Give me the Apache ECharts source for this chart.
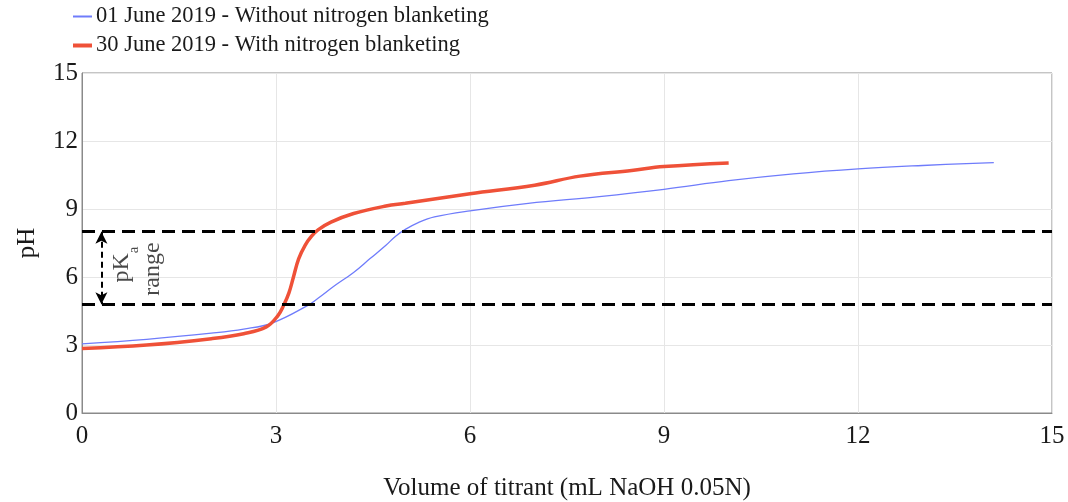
<!DOCTYPE html>
<html>
<head>
<meta charset="utf-8">
<script src="https://cdn.jsdelivr.net/npm/echarts@6/dist/echarts.min.js"></script>
<style>
  html, body { margin: 0; padding: 0; background: #fff; }
  #chart { width: 1068px; height: 502px; }
</style>
</head>
<body>
<div id="chart"></div>
<script>
// Titration curves: pH against volume of 0.05N NaOH added
const seriesNames = [
  '01 June 2019 - Without nitrogen blanketing',
  '30 June 2019 - With nitrogen blanketing'
];

// 01 June 2019 (no nitrogen blanketing)
const volumeJune01 = [0, 1.0, 2.0, 2.5, 2.95, 3.5, 3.65, 3.9, 4.2, 4.45, 4.7, 4.85, 5.0, 5.2, 5.45, 6.0, 6.9, 8.0, 9.0, 10.0, 11.0, 12.0, 13.0, 14.1];
const phJune01 = [3.05, 3.25, 3.52, 3.7, 3.98, 4.76, 5.06, 5.6, 6.2, 6.8, 7.4, 7.8, 8.1, 8.4, 8.65, 8.92, 9.25, 9.55, 9.87, 10.25, 10.55, 10.77, 10.92, 11.05];

// 30 June 2019 (nitrogen blanketing)
const volumeJune30 = [0, 1.0, 2.0, 2.5, 2.85, 3.03, 3.12, 3.2, 3.27, 3.35, 3.45, 3.55, 3.65, 3.85, 4.2, 4.7, 5.0, 6.0, 7.0, 7.7, 8.5, 9.0, 10.0];
const phJune30 = [2.85, 3.0, 3.28, 3.5, 3.8, 4.3, 4.76, 5.3, 6.0, 6.8, 7.4, 7.8, 8.08, 8.42, 8.8, 9.13, 9.25, 9.67, 10.05, 10.45, 10.7, 10.87, 11.03];

// pKa range limits (pH)
const pkaRange = [4.8, 8];

// Axis ticks
const xTicks = [0, 3, 6, 9, 12, 15];
const yTicks = [0, 3, 6, 9, 12, 15];

const FONT = '"Liberation Serif", "Times New Roman", serif';
const TEXT = '#1a1a1a';
const BLUE = '#6f7cfb';
const RED = '#ef5138';

const pairs = (xs, ys) => xs.map((x, i) => [x, ys[i]]);

const chart = echarts.init(document.getElementById('chart'), null, { renderer: 'canvas' });

const legendBase = {
  orient: 'vertical',
  left: 73,
  padding: 0,
  itemWidth: 19,
  textStyle: { fontFamily: FONT, fontSize: 22.5, color: TEXT, padding: [0, 0, 0, -1] },
  selectedMode: false
};

chart.setOption({
  animation: false,
  backgroundColor: '#fff',
  legend: [
    Object.assign({}, legendBase, { top: 5, itemHeight: 2, icon: 'rect', data: [seriesNames[0]] }),
    Object.assign({}, legendBase, { top: 34, itemHeight: 4, icon: 'rect', data: [seriesNames[1]] })
  ],
  grid: {
    left: 82, right: 16, top: 73, bottom: 89,
    outerBoundsMode: 'none',
    containLabel: false,
    show: true, borderColor: '#8a8a8a', borderWidth: 1
  },
  xAxis: {
    type: 'value',
    min: xTicks[0], max: xTicks[xTicks.length - 1], interval: xTicks[1] - xTicks[0],
    name: 'Volume of titrant (mL NaOH 0.05N)',
    nameLocation: 'middle', nameGap: 63,
    nameTextStyle: { fontFamily: FONT, fontSize: 25, color: TEXT },
    axisLine: { lineStyle: { color: '#8a8a8a' } },
    axisTick: { show: false },
    axisLabel: { fontFamily: FONT, fontSize: 25, color: TEXT, margin: 11 },
    splitLine: { lineStyle: { color: '#e6e6e6' } }
  },
  yAxis: {
    type: 'value',
    min: yTicks[0], max: yTicks[yTicks.length - 1], interval: yTicks[1] - yTicks[0],
    name: 'pH',
    nameLocation: 'middle', nameGap: 42,
    nameTextStyle: { fontFamily: FONT, fontSize: 25, color: TEXT },
    axisLine: { lineStyle: { color: '#8a8a8a' } },
    axisTick: { show: false },
    axisLabel: { fontFamily: FONT, fontSize: 25, color: TEXT, margin: 4 },
    splitLine: { lineStyle: { color: '#e6e6e6' } }
  },
  series: [
    {
      name: seriesNames[0],
      type: 'line',
      data: pairs(volumeJune01, phJune01),
      smooth: 0.4,
      showSymbol: false,
      color: BLUE,
      lineStyle: { color: BLUE, width: 1.3 },
      z: 3
    },
    {
      name: seriesNames[1],
      type: 'line',
      data: pairs(volumeJune30, phJune30),
      smooth: 0.4,
      showSymbol: false,
      color: RED,
      lineStyle: { color: RED, width: 3.5 },
      z: 4
    },
    {
      // pKa band limits and the double-headed arrow between them
      type: 'line',
      data: [],
      silent: true,
      z: 5,
      markLine: {
        silent: true,
        animation: false,
        label: { show: false },
        data: [
          { yAxis: pkaRange[1], symbol: 'none', lineStyle: { color: '#000', width: 3, type: [13, 7] } },
          { yAxis: pkaRange[0], symbol: 'none', lineStyle: { color: '#000', width: 3, type: [13, 7] } },
          [
            { coord: [0.3, pkaRange[1]], symbol: 'arrow', symbolSize: [9, 12] },
            { coord: [0.3, pkaRange[0]], symbol: 'arrow', symbolSize: [9, 12] }
          ]
        ],
        lineStyle: { color: '#000', width: 2, type: [6, 4] },
        symbol: 'none'
      }
    },
    {
      // rotated annotation text
      type: 'scatter',
      silent: true,
      symbolSize: 0,
      z: 6,
      data: [
        { value: [0.62, 6.55], label: { formatter: '{p|pK}{s|a}' } },
        { value: [1.1, 6.35], label: { formatter: '{p|range}' } }
      ],
      label: {
        show: true,
        position: 'inside',
        rotate: 90,
        color: TEXT,
        fontFamily: FONT,
        rich: {
          p: { fontFamily: FONT, fontSize: 24, color: TEXT, lineHeight: 28 },
          s: { fontFamily: FONT, fontSize: 15, color: TEXT, lineHeight: 15, verticalAlign: 'bottom', padding: [0, 0, -5, 0] }
        }
      }
    }
  ]
});
</script>
</body>
</html>
